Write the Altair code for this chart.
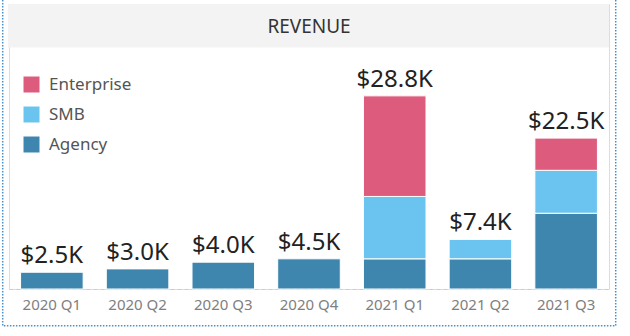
import altair as alt
import pandas as pd

quarters = ["2020 Q1", "2020 Q2", "2020 Q3", "2020 Q4", "2021 Q1", "2021 Q2", "2021 Q3"]
agency = [2.5, 3.0, 4.0, 4.5, 4.5, 4.5, 11.3]
smb = [0.0, 0.0, 0.0, 0.0, 9.3, 2.9, 6.4]
enterprise = [0.0, 0.0, 0.0, 0.0, 15.0, 0.0, 4.8]
segments = ["Enterprise", "SMB", "Agency"]
seg_colors = ["#DD5C7E", "#6BC4EF", "#3F86AE"]
stack_rank = {"Agency": 0, "SMB": 1, "Enterprise": 2}

rows = []
for i, q in enumerate(quarters):
    for seg, vals in (("Agency", agency), ("SMB", smb), ("Enterprise", enterprise)):
        if vals[i] > 0:
            rows.append({"quarter": q, "segment": seg, "value": vals[i], "rank": stack_rank[seg]})
df = pd.DataFrame(rows)

totals = pd.DataFrame({
    "quarter": quarters,
    "total": [a + s + e for a, s, e in zip(agency, smb, enterprise)],
})

FONT = "Noto Sans"
W, H = 600, 285

xenc = alt.X("quarter:N", sort=quarters,
             scale=alt.Scale(paddingInner=0.27, paddingOuter=0.135),
             axis=alt.Axis(title=None, labelAngle=0, ticks=False, labelFontSize=15,
                           labelColor="#808080", labelPadding=8, labelFont=FONT,
                           domainColor="#cccccc", domainDash=[4, 3], domainWidth=1))
yscale = alt.Scale(domain=[0, 42.5], nice=False)

one = pd.DataFrame({"a": [0]})

frame = alt.Chart(one).mark_rect(fill=None, stroke="#4A90C8", strokeWidth=1.5,
                                 strokeDash=[1.5, 1.5]).encode(
    x=alt.value(-6.3), x2=alt.value(606.7), y=alt.value(-6), y2=alt.value(321.7))

band = alt.Chart(one).mark_rect(fill="#F3F3F3").encode(
    x=alt.value(-1), x2=alt.value(600), y=alt.value(0), y2=alt.value(43.5))

title = alt.Chart(one).mark_text(text="REVENUE", font=FONT, fontSize=19, color="#333333",
                                 baseline="middle", align="center").encode(
    x=alt.value(300), y=alt.value(23))

bars = alt.Chart(df).mark_bar(stroke="white", strokeWidth=1).encode(
    x=xenc,
    y=alt.Y("value:Q", stack="zero", scale=yscale, axis=None),
    color=alt.Color("segment:N", sort=segments,
                    scale=alt.Scale(domain=segments, range=seg_colors),
                    legend=alt.Legend(title=None, orient="none", legendX=14, legendY=72,
                                      symbolType="square", symbolSize=256, symbolStrokeWidth=0,
                                      labelFontSize=17, labelColor="#555555", labelFont=FONT,
                                      rowPadding=12, labelOffset=9, padding=0)),
    order=alt.Order("rank:Q", sort="ascending"),
)

labels = alt.Chart(totals).transform_calculate(
    label="'$' + format(datum.total, '.1f') + 'K'"
).mark_text(font=FONT, fontSize=24, color="#222222", baseline="alphabetic", dy=-9).encode(
    x=alt.X("quarter:N", sort=quarters),
    y=alt.Y("total:Q", scale=yscale),
    text="label:N",
)

chart = alt.layer(frame, band, title, bars, labels).properties(
    width=W, height=H,
    padding={"left": 9, "top": 4, "right": 21, "bottom": 47},
    autosize=alt.AutoSizeParams(type="none"),
).configure_view(stroke=None).configure(background="white")

chart.save("out.html", embed_options={"renderer": "svg", "actions": False})
